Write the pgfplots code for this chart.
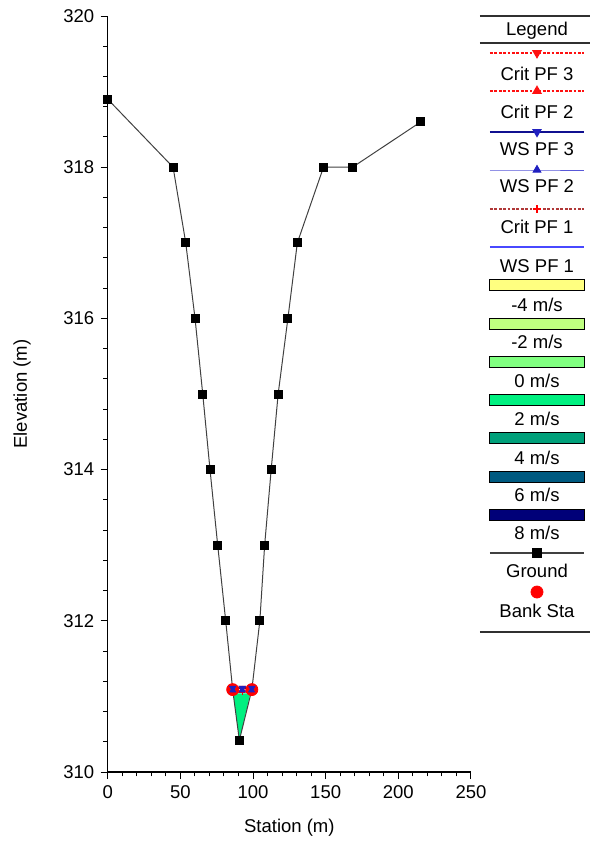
\documentclass[border=0pt]{standalone}
\usepackage{fontspec}
\setmainfont{Liberation Sans}
\usepackage{pgfplots}
\pgfplotsset{compat=1.18}

% velocity colour scale
\definecolor{vneg4}{HTML}{FFFF80}
\definecolor{vneg2}{HTML}{BFFF80}
\definecolor{vzero}{HTML}{80FF80}
\definecolor{vpos2}{HTML}{00F080}
\definecolor{vpos4}{HTML}{00A07A}
\definecolor{vpos6}{HTML}{005A80}
\definecolor{vpos8}{HTML}{000078}
% water surface profiles
\definecolor{critred}{HTML}{FF1010}
\definecolor{critone}{HTML}{B03838}
\definecolor{wsone}{HTML}{4848FF}
\definecolor{wstwo}{HTML}{5858D8}
\definecolor{wsthree}{HTML}{101090}
\definecolor{wsmark}{HTML}{2020C0}
\definecolor{groundline}{HTML}{404040}
\definecolor{rulegray}{HTML}{303030}

\begin{document}
\fontsize{9.25pt}{11pt}\selectfont
\begin{tikzpicture}
\useasboundingbox (0,0) rectangle (295pt,421.5pt);

% ---------------- cross section ----------------
\begin{axis}[
  at={(53.85pt,35.5pt)}, anchor=south west,
  scale only axis, width=181.65pt, height=378pt,
  xmin=0, xmax=250, ymin=310, ymax=320,
  axis x line*=bottom, axis y line*=left,
  axis line style={-, line width=0.6pt, black},
  xtick={0,50,...,250}, ytick={310,312,...,320},
  minor x tick num=4, minor y tick num=4,
  tick align=outside,
  major tick length=3.5pt, minor tick length=2.2pt,
  every tick/.style={black, line width=0.5pt},
  /pgf/number format/assume math mode=true,
  ticklabel style={font=\fontsize{9.25pt}{11pt}\selectfont},
  label style={font=\fontsize{9.25pt}{11pt}\selectfont},
  xlabel={Station (m)}, ylabel={Elevation (m)},
  xlabel style={at={(axis description cs:0.5,-0.0741)}, anchor=center},
  ylabel style={at={(axis description cs:-0.2359,0.5)}, anchor=center},
  clip=false,
]
% flow area (2 m/s band)
\addplot[fill=vpos2, draw=none] coordinates {
  (86.4,311.04) (90.6,310.42) (98.2,311.04)} -- cycle;

% ground profile
\addplot[color=groundline, line width=0.5pt, mark=square*, mark size=2pt,
  mark options={black, solid}] coordinates {
  (0,318.90) (45.0,318.00) (53.7,317.00) (60.1,316.00) (65.4,315.00)
  (70.4,314.00) (75.7,313.00) (81.2,312.00) (86.0,311.09) (90.6,310.42)
  (99.2,311.09) (104.7,312.00) (108.0,313.00) (112.5,314.00) (117.3,315.00)
  (124.0,316.00) (130.5,317.00) (148.5,318.00) (168.5,318.00) (215.5,318.60)};

% bank stations
\addplot[only marks, mark=*, mark size=3pt, color=red] coordinates {
  (86.0,311.09) (99.2,311.09)};

% critical depths
\addplot[critred, line width=0.7pt, dash pattern=on 1.4pt off 0.8pt,
  mark=triangle*, mark size=1.6pt, mark options={solid, rotate=180, fill=critred}]
  coordinates {(86.0,311.11) (92.6,311.11) (99.2,311.11)};
\addplot[critred, line width=0.7pt, dash pattern=on 1.4pt off 0.8pt,
  mark=triangle*, mark size=1.6pt, mark options={solid, fill=critred}]
  coordinates {(86.1,311.08) (92.6,311.08) (99.0,311.08)};
\addplot[critone, line width=0.7pt, dash pattern=on 1.4pt off 0.8pt,
  mark=+, mark size=1.6pt, mark options={solid, red}]
  coordinates {(86.2,311.06) (92.6,311.06) (98.8,311.06)};

% water surfaces
\addplot[wsthree, line width=0.6pt, mark=triangle*, mark size=1.6pt,
  mark options={rotate=180, fill=wsmark, draw=wsmark}]
  coordinates {(86.0,311.11) (92.6,311.11) (99.2,311.11)};
\addplot[wstwo, line width=0.5pt, mark=triangle*, mark size=1.6pt,
  mark options={fill=wsmark, draw=wsmark}]
  coordinates {(86.1,311.08) (92.6,311.08) (99.0,311.08)};
\addplot[wsone, line width=0.6pt]
  coordinates {(86.2,311.06) (98.8,311.06)};
\end{axis}

% ---------------- legend panel ----------------
\begin{axis}[
  at={(240pt,105.5pt)}, anchor=south west,
  scale only axis, width=55pt, height=308.5pt,
  xmin=480, xmax=590, ymin=15, ymax=632, y dir=reverse,
  hide axis, clip=false,
  every node/.append style={font=\fontsize{9.25pt}{11pt}\selectfont, anchor=base},
]
% rules
\addplot[rulegray, line width=0.9pt] coordinates {(480,16) (590,16)};
\addplot[rulegray, line width=0.9pt] coordinates {(480,43) (590,43)};
\addplot[rulegray, line width=0.9pt] coordinates {(480,632) (590,632)};
\node at (axis cs:537,30.5) {Legend};

% Crit PF 3
\addplot[critred, line width=0.7pt, dash pattern=on 1.4pt off 0.8pt,
  mark=triangle*, mark size=2.2pt, mark indices={2},
  mark options={solid, rotate=180, fill=critred}]
  coordinates {(490,53) (537,53) (584,53)};
\node at (axis cs:537,73.5) {Crit PF 3};
% Crit PF 2
\addplot[critred, line width=0.7pt, dash pattern=on 1.4pt off 0.8pt,
  mark=triangle*, mark size=2.2pt, mark indices={2},
  mark options={solid, fill=critred}]
  coordinates {(490,91) (537,91) (584,91)};
\node at (axis cs:537,111.5) {Crit PF 2};
% WS PF 3
\addplot[wsthree, line width=0.6pt,
  mark=triangle*, mark size=2.2pt, mark indices={2},
  mark options={rotate=180, fill=wsmark, draw=wsmark}]
  coordinates {(490,132) (537,132) (584,132)};
\node at (axis cs:537,149.5) {WS PF 3};
% WS PF 2
\addplot[wstwo, line width=0.5pt,
  mark=triangle*, mark size=2.2pt, mark indices={2},
  mark options={fill=wsmark, draw=wsmark}]
  coordinates {(490,170) (537,170) (584,170)};
\node at (axis cs:537,186.5) {WS PF 2};
% Crit PF 1
\addplot[critone, line width=0.7pt, dash pattern=on 1.4pt off 0.8pt,
  mark=+, mark size=2pt, mark indices={2}, mark options={solid, red}]
  coordinates {(490,209) (537,209) (584,209)};
\node at (axis cs:537,226.5) {Crit PF 1};
% WS PF 1
\addplot[wsone, line width=0.7pt]
  coordinates {(490,247) (584,247)};
\node at (axis cs:537,266.5) {WS PF 1};

% velocity bands
\addplot[draw=black, line width=0.5pt, fill=vneg4] coordinates {(490,279) (584,279) (584,290) (490,290)} -- cycle;
\node at (axis cs:537,304.5) {-4 m/s};
\addplot[draw=black, line width=0.5pt, fill=vneg2] coordinates {(490,318) (584,318) (584,329) (490,329)} -- cycle;
\node at (axis cs:537,341.5) {-2 m/s};
\addplot[draw=black, line width=0.5pt, fill=vzero] coordinates {(490,356) (584,356) (584,367) (490,367)} -- cycle;
\node at (axis cs:537,380.5) {0 m/s};
\addplot[draw=black, line width=0.5pt, fill=vpos2] coordinates {(490,394) (584,394) (584,405) (490,405)} -- cycle;
\node at (axis cs:537,418.5) {2 m/s};
\addplot[draw=black, line width=0.5pt, fill=vpos4] coordinates {(490,432) (584,432) (584,443) (490,443)} -- cycle;
\node at (axis cs:537,457.5) {4 m/s};
\addplot[draw=black, line width=0.5pt, fill=vpos6] coordinates {(490,471) (584,471) (584,482) (490,482)} -- cycle;
\node at (axis cs:537,494.5) {6 m/s};
\addplot[draw=black, line width=0.5pt, fill=vpos8] coordinates {(490,509) (584,509) (584,520) (490,520)} -- cycle;
\node at (axis cs:537,532.5) {8 m/s};

% Ground
\addplot[groundline, line width=0.6pt, mark=square*, mark size=2pt,
  mark indices={2}, mark options={black}]
  coordinates {(490,553) (537,553) (584,553)};
\node at (axis cs:537,570.5) {Ground};
% Bank Sta
\addplot[only marks, mark=*, mark size=3pt, color=red]
  coordinates {(537,592)};
\node at (axis cs:537,610.5) {Bank Sta};
\end{axis}
\end{tikzpicture}
\end{document}
